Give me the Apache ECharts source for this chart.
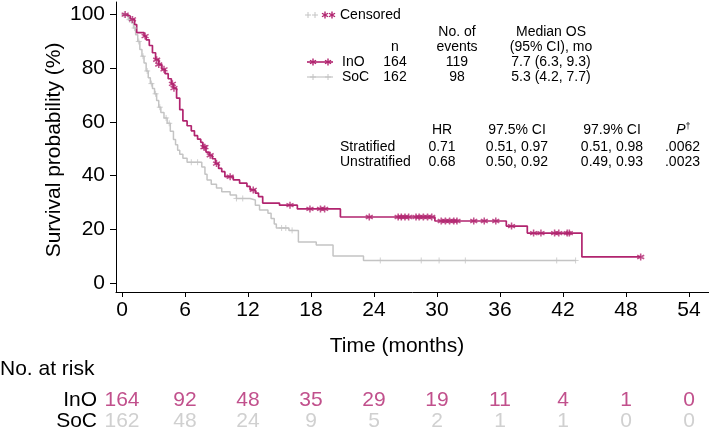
<!DOCTYPE html>
<html><head><meta charset="utf-8">
<script src="https://cdn.jsdelivr.net/npm/echarts@6/dist/echarts.min.js"></script>
<style>html,body{margin:0;padding:0;background:#fff}#c{width:709px;height:432px}</style>
</head><body><div id="c"></div>
<script>
// ---------- data ----------
const xTicks = [0, 6, 12, 18, 24, 30, 36, 42, 48, 54];
const yTicks = [0, 20, 40, 60, 80, 100];
const groups = ['InO', 'SoC'];

// Kaplan-Meier step points [time (months), survival % after the step]
const inoCurve = [[0,100],[0.5,99.4],[0.8,98.2],[1.2,96.3],[1.4,93.3],[2.1,92.0],[2.3,90.6],[2.6,88.5],[2.9,85.8],
  [3.2,83.2],[3.5,81.4],[3.8,79.6],[4.1,78.0],[4.4,76.1],[4.7,74.2],[4.9,72.6],[5.2,68.9],[5.5,64.6],[5.8,60.4],
  [6.2,58.6],[6.6,56.7],[6.9,54.9],[7.2,53.6],[7.5,52.4],[7.7,50.6],[8.0,48.8],[8.3,47.6],[8.6,46.3],[8.9,44.5],
  [9.2,42.7],[9.5,41.5],[9.8,39.6],[10.6,38.4],[11.2,37.2],[11.9,36.0],[12.2,34.7],[12.7,33.5],[13.0,32.2],
  [13.4,29.8],[15.0,29.0],[16.7,27.6],[20.8,24.6],[29.8,23.1],[36.6,21.2],[38.6,18.6],[43.8,9.7],[49.4,9.7]];
const socCurve = [[0,100],[0.3,99.4],[0.6,98.1],[0.9,96.9],[1.1,95.0],[1.3,92.5],[1.5,90.0],[1.7,87.0],[1.9,84.5],
  [2.1,82.0],[2.3,79.0],[2.5,76.5],[2.7,74.3],[2.9,72.5],[3.1,70.5],[3.3,68.0],[3.5,65.5],[3.7,63.5],[4.0,61.5],
  [4.3,59.5],[4.6,56.5],[4.9,53.5],[5.1,51.5],[5.3,49.5],[5.5,48.0],[5.8,46.5],[6.2,45.0],[7.6,43.2],[7.9,40.5],
  [8.1,38.4],[8.5,36.8],[9.0,35.4],[9.5,34.0],[10.3,32.8],[10.9,31.5],[12.2,30.9],[12.7,29.0],[13.1,27.2],
  [13.9,26.0],[14.2,24.0],[14.5,22.0],[14.7,20.5],[15.9,19.6],[16.8,15.3],[18.5,14.2],[20.1,10.1],[23.0,8.4],[43.2,8.4]];

// censoring times (months)
const inoCensor = [0.3,1.0,2.2,3.3,3.5,4.0,4.8,4.95,7.8,7.9,8.4,9.0,10.3,12.5,16.0,17.9,18.9,19.3,23.55,26.3,26.6,
  26.95,27.3,28.0,28.3,28.7,29.1,29.5,30.4,30.8,31.2,31.6,31.9,33.5,34.5,35.6,37.1,39.2,39.9,41.2,41.6,42.4,42.6,49.4];
const socCensor = [0.2,0.7,1.2,1.6,2.0,2.4,2.8,3.2,3.6,4.2,4.5,6.6,7.2,10.9,11.5,15.2,15.6,16.2,24.6,28.5,30.2,32.7,41.4,43.2];

// numbers at risk at each x tick
const inoRisk = [164, 92, 48, 35, 29, 19, 11, 4, 1, 0];
const socRisk = [162, 48, 24, 9, 5, 2, 1, 1, 0, 0];

// summary table text
const summaryHeader = ['n', 'No. of', 'events', 'Median OS', '(95% CI), mo'];
const summaryRows = [['InO','164','119','7.7 (6.3, 9.3)'], ['SoC','162','98','5.3 (4.2, 7.7)']];
const hrHeader = ['HR', '97.5% CI', '97.9% CI'];
const hrRows = [['Stratified','0.71','0.51, 0.97','0.51, 0.98','.0062'], ['Unstratified','0.68','0.50, 0.92','0.49, 0.93','.0023']];

// ---------- styling ----------
const MAG = '#B1246F';
const GRY = '#C4C4C4';
const FF = '"Liberation Sans", Arial, sans-serif';
const PLUS = 'path://M5,0L5,10M0,5L10,5';
const STAR = 'path://M5,0L5,10M0.67,2.5L9.33,7.5M0.67,7.5L9.33,2.5';

function survAt(curve, t) {
  let s = curve[0][1];
  for (const p of curve) { if (p[0] <= t) s = p[1]; else break; }
  return s;
}

const XMIN = -0.571, XMAX = 55.905;

function txt(x, y, text, align, size, extra) {
  return Object.assign({
    type: 'text', x: x, y: y, silent: true,
    style: { text: text, fill: '#000', font: (size || 14) + 'px ' + FF,
      textAlign: align || 'center', align: align || 'center',
      textVerticalAlign: 'middle', verticalAlign: 'middle' }
  }, extra || {});
}
function ln(x1, y1, x2, y2, color, w) {
  return { type: 'line', silent: true, shape: { x1, y1, x2, y2 }, style: { stroke: color, lineWidth: w } };
}
function plusIcon(cx, cy, r) {
  return [ln(cx - r, cy, cx + r, cy, GRY, 1), ln(cx, cy - r, cx, cy + r, GRY, 1)];
}
function starIcon(cx, cy, r) {
  const dx = r * 0.866, dy = r * 0.5;
  return [ln(cx, cy - r, cx, cy + r, MAG, 1.4), ln(cx - dx, cy - dy, cx + dx, cy + dy, MAG, 1.4),
          ln(cx - dx, cy + dy, cx + dx, cy - dy, MAG, 1.4)];
}

let graphics = [];
// legend "Censored"
graphics = graphics.concat(plusIcon(308, 15, 3), plusIcon(315, 15, 3), starIcon(325, 15, 3.5), starIcon(332, 15, 3.5));
graphics.push(txt(340, 15, 'Censored', 'left'));
// summary header
graphics.push(txt(395, 47, summaryHeader[0]));
graphics.push(txt(457, 32, summaryHeader[1]));
graphics.push(txt(457, 47, summaryHeader[2]));
graphics.push(txt(551, 32, summaryHeader[3]));
graphics.push(txt(551, 47, summaryHeader[4]));
// legend icons for rows
graphics.push(ln(307, 62, 333, 62, MAG, 1.6));
graphics = graphics.concat(starIcon(313, 62, 3.5), starIcon(328, 62, 3.5));
graphics.push(ln(307, 77, 333, 77, GRY, 1.2));
graphics = graphics.concat(plusIcon(313, 77, 3), plusIcon(328, 77, 3));
summaryRows.forEach((r, i) => {
  const y = 62 + i * 15;
  graphics.push(txt(342, y, r[0], 'left'));
  graphics.push(txt(395, y, r[1]));
  graphics.push(txt(457, y, r[2]));
  graphics.push(txt(551, y, r[3]));
});
// HR table
graphics.push(txt(442, 130, hrHeader[0]));
graphics.push(txt(517, 130, hrHeader[1]));
graphics.push(txt(612, 130, hrHeader[2]));
graphics.push(txt(681, 130, 'P', 'center', 14, { style: { text: 'P', fill: '#000', font: 'italic 14px ' + FF,
  textAlign: 'center', align: 'center', textVerticalAlign: 'middle', verticalAlign: 'middle' } }));
graphics.push(txt(688, 127, '†', 'center', 9));
hrRows.forEach((r, i) => {
  const y = 147 + i * 15;
  graphics.push(txt(340, y, r[0], 'left'));
  graphics.push(txt(442, y, r[1]));
  graphics.push(txt(517, y, r[2]));
  graphics.push(txt(612, y, r[3]));
  graphics.push(txt(700, y, r[4], 'right'));
});
// axis titles and at-risk heading
graphics.push(txt(397, 346, 'Time (months)', 'center', 21));
graphics.push(txt(54, 150, 'Survival probability (%)', 'center', 21, { rotation: Math.PI / 2 }));
graphics.push(txt(0, 369, 'No. at risk', 'left', 21));

const chart = echarts.init(document.getElementById('c'), null, { renderer: 'canvas' });
chart.setOption({
  animation: false,
  backgroundColor: '#fff',
  grid: [
    { left: 116, right: 0, top: 2, bottom: 140 },
    { left: 116, right: 0, top: 389, height: 46 }
  ],
  xAxis: [
    { type: 'value', gridIndex: 0, min: XMIN, max: XMAX,
      axisLine: { show: true, onZero: false, lineStyle: { color: '#000', width: 1 } },
      axisTick: { show: true, length: 5, customValues: xTicks, lineStyle: { color: '#000' } },
      axisLabel: { customValues: xTicks, color: '#000', fontSize: 21, fontFamily: FF, margin: 8 },
      splitLine: { show: false } },
    { type: 'value', gridIndex: 1, min: XMIN, max: XMAX, show: false }
  ],
  yAxis: [
    { type: 'value', gridIndex: 0, min: -3.35, max: 104.7,
      axisLine: { show: true, onZero: false, lineStyle: { color: '#000', width: 1 } },
      axisTick: { show: true, length: 6, customValues: yTicks, lineStyle: { color: '#000' } },
      axisLabel: { customValues: yTicks, color: '#000', fontSize: 21, fontFamily: FF, margin: 11 },
      splitLine: { show: false } },
    { type: 'category', gridIndex: 1, data: ['SoC', 'InO'],
      axisLine: { show: false }, axisTick: { show: false },
      axisLabel: { interval: 0, hideOverlap: false, color: '#000', fontSize: 21, fontFamily: FF, margin: 19 } }
  ],
  graphic: graphics,
  series: [
    { name: 'SoC', type: 'line', step: 'end', data: socCurve, showSymbol: false, silent: true,
      lineStyle: { color: GRY, width: 1.5 }, itemStyle: { color: GRY }, z: 2 },
    { name: 'InO', type: 'line', step: 'end', data: inoCurve, showSymbol: false, silent: true,
      lineStyle: { color: MAG, width: 1.7 }, itemStyle: { color: MAG }, z: 3 },
    { name: 'SoC censored', type: 'scatter', data: socCensor.map(t => [t, survAt(socCurve, t)]),
      symbol: PLUS, symbolSize: 6, silent: true, z: 4,
      itemStyle: { color: 'rgba(0,0,0,0)', borderColor: GRY, borderWidth: 1 } },
    { name: 'InO censored', type: 'scatter', data: inoCensor.map(t => [t, survAt(inoCurve, t)]),
      symbol: STAR, symbolSize: 7, silent: true, z: 5,
      itemStyle: { color: 'rgba(0,0,0,0)', borderColor: MAG, borderWidth: 1.5 } },
    { name: 'InO at risk', type: 'scatter', xAxisIndex: 1, yAxisIndex: 1, silent: true,
      data: xTicks.map((t, i) => [t, 'InO', inoRisk[i]]), symbolSize: 1,
      itemStyle: { color: 'rgba(0,0,0,0)' },
      label: { show: true, position: 'inside', formatter: p => String(p.value[2]), color: MAG, fontSize: 21, fontFamily: FF } },
    { name: 'SoC at risk', type: 'scatter', xAxisIndex: 1, yAxisIndex: 1, silent: true,
      data: xTicks.map((t, i) => [t, 'SoC', socRisk[i]]), symbolSize: 1,
      itemStyle: { color: 'rgba(0,0,0,0)' },
      label: { show: true, position: 'inside', formatter: p => String(p.value[2]), color: GRY, fontSize: 21, fontFamily: FF } }
  ]
});
</script>
</body></html>
